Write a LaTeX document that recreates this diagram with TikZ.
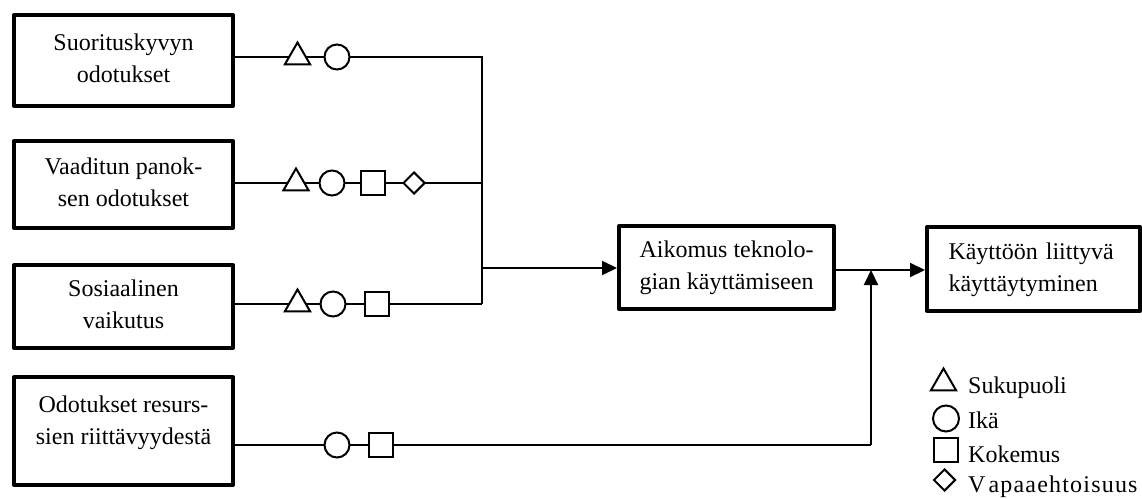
\documentclass[tikz,border=0pt]{standalone}
\usepackage{fontspec}
\setmainfont{Liberation Serif}
\usetikzlibrary{arrows.meta,shapes.geometric}

\tikzset{
  boxst/.style={draw, line width=4pt, line join=round, inner sep=0pt,
    align=center, font=\fontsize{24}{32}\selectfont},
  wire/.style={line width=2pt},
  arr/.style={wire, -{Triangle[length=15pt,width=14pt]}},
  sym/.style={draw, fill=white, line width=2pt, inner sep=0pt},
  tri/.style={sym, regular polygon, regular polygon sides=3, minimum size=29pt},
  circ/.style={sym, circle, minimum size=25pt},
  sqr/.style={sym, rectangle, minimum size=24pt},
  dia/.style={sym, diamond, aspect=1, minimum size=22pt},
  legtxt/.style={anchor=base west, inner sep=0pt, font=\fontsize{24}{32}\selectfont}
}

\begin{document}
\begin{tikzpicture}[x=1pt,y=-1pt]
\useasboundingbox (0,0) rectangle (1142,498);

% factor boxes
\node[boxst, minimum width=219pt, minimum height=91pt] (b1) at (123.5,60.5)
  {Suorituskyvyn\strut\\odotukset\strut};
\node[boxst, minimum width=219pt, minimum height=87pt] (b2) at (123.5,184.5)
  {Vaaditun panok-\strut\\sen odotukset\strut};
\node[boxst, minimum width=219pt, minimum height=83pt] (b3) at (123.5,306.5)
  {Sosiaalinen\strut\\vaikutus\strut};
\node[boxst, minimum width=219pt, minimum height=108pt,
  label={[boxst, draw=none, yshift=9pt]center:{Odotukset resurs-\strut\\sien riittävyydestä\strut}}] (b4) at (123.5,431) {};

% intention and behaviour
\node[boxst, minimum width=215pt, minimum height=83pt] (ai) at (726.5,267.5)
  {Aikomus teknolo-\strut\\gian käyttämiseen\strut};
\node[boxst, minimum width=213pt, minimum height=84pt, text width=170pt, align=left] (kb) at (1033.5,269)
  {\makebox[170pt][s]{Käyttöön liittyvä}\strut\\käyttäytyminen\strut};

% junction points
\coordinate (j1) at (482,57);
\coordinate (j2) at (482,183);
\coordinate (j3) at (482,304);
\coordinate (jm) at (482,268);
\coordinate (j4) at (871,445);
\coordinate (jk) at (871,270);

% connectors
\draw[wire] (b1.east |- j1) -- (j1) -- (j3);
\draw[wire] (b2.east |- j2) -- (j2);
\draw[wire] (b3.east |- j3) -- (j3);
\draw[arr] (jm) -- (jm -| ai.west);
\draw[arr] (ai.east |- jk) -- (jk -| kb.west);
\draw[wire] (b4.east |- j4) -- (j4);
\draw[arr] (j4) -- (jk);

% moderator symbols on the connectors
\node[tri]  (t1) at (297.5,57) {};
\node[circ] (c1) at (337,57) {};

\node[tri]  (t2) at (296,183) {};
\node[circ] (c2) at (332,183) {};
\node[sqr]  (s2) at (373,183) {};
\node[dia]  (d2) at (414,183) {};

\node[tri]  (t3) at (297.5,304) {};
\node[circ] (c3) at (333,304) {};
\node[sqr]  (s3) at (376.5,304) {};

\node[circ] (c4) at (337,445) {};
\node[sqr]  (s4) at (380.5,445) {};

% legend
\node[tri]  (lt) at (943.5,383) {};
\node[circ, minimum size=26pt] (lc) at (946,418.5) {};
\node[sqr]  (ls) at (946,450) {};
\node[dia]  (ld) at (944.5,480) {};
\node[legtxt] (lt1) at (968,393) {Sukupuoli};
\node[legtxt] (lt2) at (968,428) {Ikä};
\node[legtxt] (lt3) at (968,462) {Kokemus};
\node[legtxt] (lt4) at (968,492)
  {\addfontfeature{Kerning=Off,LetterSpace=5}V\kern3pt apaaehtoisuus};
\end{tikzpicture}
\end{document}
